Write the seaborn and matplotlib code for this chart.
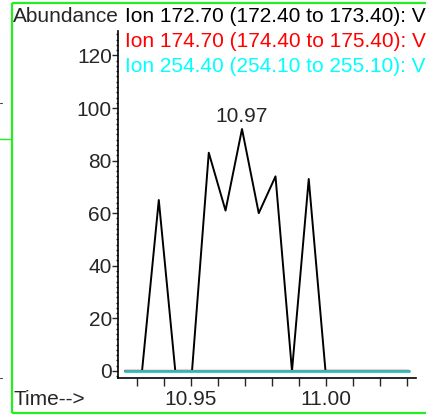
import numpy as np
import pandas as pd
import matplotlib
matplotlib.use("Agg")
import matplotlib.pyplot as plt
from matplotlib.lines import Line2D
from matplotlib.ticker import MultipleLocator, FixedLocator
import seaborn as sns

# Scan times (min) and extracted-ion abundances
times = [10.9257, 10.9319, 10.9381, 10.9442, 10.9504, 10.9566, 10.9628, 10.9689,
         10.9751, 10.9813, 10.9874, 10.9936, 10.9998, 11.0060, 11.0121, 11.0183,
         11.0245, 11.0306]
ion_172 = [0, 0, 65, 0, 0, 83, 61, 92, 60, 74, 0, 73, 0, 0, 0, 0, 0, 0]
ion_174 = [0] * 18
ion_254 = [0] * 18

ion_labels = ["Ion 172.70 (172.40 to 173.40): V",
              "Ion 174.70 (174.40 to 175.40): V",
              "Ion 254.40 (254.10 to 255.10): V"]
ion_colors = ["black", "red", "#00ffff"]
peak_label = "10.97"

df = pd.concat([
    pd.DataFrame({"time": times, "abundance": ion_172, "ion": ion_labels[0]}),
    pd.DataFrame({"time": times, "abundance": ion_174, "ion": ion_labels[1]}),
    pd.DataFrame({"time": times, "abundance": ion_254, "ion": ion_labels[2]}),
])

sns.set_style("white")
plt.rcParams["font.family"] = ["Liberation Sans", "DejaVu Sans"]
FS = 15.0

fig = plt.figure(figsize=(4.26, 4.15), dpi=100)
ax = fig.add_axes([0.277, 0.0892, 0.6995, 0.8361])

sns.lineplot(data=df[df.ion == ion_labels[0]], x="time", y="abundance",
             color="black", lw=1.4, ax=ax, legend=False)
sns.lineplot(data=df[df.ion == ion_labels[1]], x="time", y="abundance",
             color="red", lw=1.6, ax=ax, legend=False)
sns.lineplot(data=df[df.ion == ion_labels[2]], x="time", y="abundance",
             color="#2cc4c4", lw=2.2, alpha=0.9, ax=ax, legend=False)

ax.set_xlim(10.923, 11.0333)
ax.set_ylim(-2.7, 129.3)
ax.set_xlabel("")
ax.set_ylabel("")

# axes: only left and bottom spines
for s in ["top", "right"]:
    ax.spines[s].set_visible(False)
for s in ["left", "bottom"]:
    ax.spines[s].set_color("black")
    ax.spines[s].set_linewidth(1.2)

ax.yaxis.set_minor_locator(MultipleLocator(2))
ax.set_yticks([0, 20, 40, 60, 80, 100, 120])
ax.tick_params(axis="y", which="major", direction="out", length=4, width=1,
               labelsize=FS, pad=0.5, left=True)
ax.tick_params(axis="y", which="minor", direction="out", length=1.5, width=1, left=True)

ax.xaxis.set_major_locator(FixedLocator([10.95, 11.00]))
ax.xaxis.set_minor_locator(FixedLocator([10.93, 10.94, 10.96, 10.97, 10.98, 10.99,
                                         11.01, 11.02, 11.03]))
ax.set_xticklabels(["10.95", "11.00"])
ax.tick_params(axis="x", which="both", direction="out", length=6, width=1,
               labelsize=FS, pad=3, bottom=True)

# peak retention-time label
peak_idx = int(np.argmax(ion_172))
ax.annotate(peak_label, (times[peak_idx], ion_172[peak_idx]),
            xytext=(0, 2), textcoords="offset points",
            ha="center", va="bottom", fontsize=FS)

# header texts and ion legend
fig.text(13 / 426, 1 - 17 / 415, "Abundance", ha="left", va="center", fontsize=FS)
fig.text(13 / 426, 1 - 399 / 415, "Time-->", ha="left", va="center", fontsize=FS)
for i, (lab, col) in enumerate(zip(ion_labels, ion_colors)):
    fig.text(125 / 426, 1 - (17 + 24.5 * i) / 415, lab, ha="left", va="center",
             fontsize=FS, color=col)

# panel frame (open on the right, continuing past the figure edge)
green = "#22ee22"
fig.add_artist(Line2D([11.5 / 426, 11.5 / 426], [1 - 3 / 415, 1 - 413 / 415],
                      color=green, lw=1.6, solid_capstyle="butt",
                      transform=fig.transFigure))
for yy in (3, 413):
    fig.add_artist(Line2D([11.5 / 426, 0.999], [1 - yy / 415, 1 - yy / 415],
                          color=green, lw=1.6, solid_capstyle="butt",
                          transform=fig.transFigure))
fig.add_artist(Line2D([0, 10 / 426], [1 - 139 / 415, 1 - 139 / 415],
                      color=green, lw=1.0, transform=fig.transFigure))
fig.add_artist(Line2D([0, 2 / 426], [1 - 103 / 415, 1 - 103 / 415],
                      color="#444444", lw=0.8, transform=fig.transFigure))
fig.add_artist(Line2D([0, 2 / 426], [1 - 378 / 415, 1 - 378 / 415],
                      color="#444444", lw=0.8, transform=fig.transFigure))

fig.savefig("out.png", dpi=100)
